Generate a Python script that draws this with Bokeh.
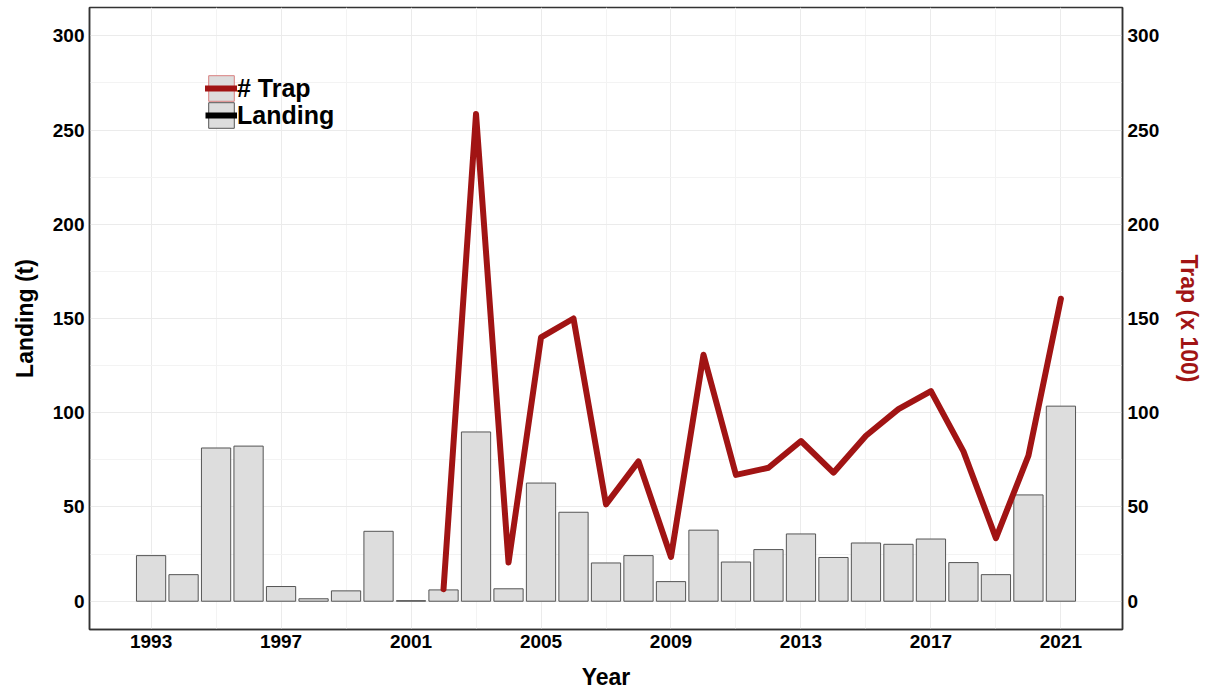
from bokeh.plotting import figure
from bokeh.models import Range1d, LinearAxis, FixedTicker, Legend, LegendItem, ColumnDataSource
from bokeh.embed import file_html
from bokeh.resources import INLINE

# Annual landings (t), 1993-2021
years = list(range(1993, 2022))
landing = [24.2, 14.1, 81.3, 82.3, 7.8, 1.3, 5.5, 37.1, 0.3, 6.0,
           89.8, 6.6, 62.7, 47.2, 20.3, 24.2, 10.4, 37.7, 20.8, 27.4,
           35.7, 23.2, 30.9, 30.2, 33.0, 20.5, 14.1, 56.4, 103.5]

# Number of traps (x 100), 2002-2021
trap_years = list(range(2002, 2022))
trap = [6.4, 258.5, 20.5, 140.0, 150.0, 51.4, 74.2, 23.5, 130.8, 67.0,
        70.8, 85.0, 68.2, 87.8, 101.9, 111.5, 79.5, 33.5, 77.2, 160.5]

x_ticks = [1993, 1997, 2001, 2005, 2009, 2013, 2017, 2021]
x_minor = [1995, 1999, 2003, 2007, 2011, 2015, 2019]
y_ticks = [0, 50, 100, 150, 200, 250, 300]
y_minor = [25, 75, 125, 175, 225, 275]

RED = "#A11414"
FONT = "Liberation Sans"
NAN = float("nan")

p = figure(width=1210, height=694, output_backend="svg", toolbar_location=None,
           x_range=Range1d(1991.105, 2022.895), y_range=Range1d(-15, 315),
           min_border_left=89, min_border_right=88, min_border_top=7, min_border_bottom=65)
p.background_fill_color = "white"
p.border_fill_color = "white"
p.outline_line_color = "#333333"
p.outline_line_width = 1.5

bars_src = ColumnDataSource(dict(year=years, landing=landing))
trap_src = ColumnDataSource(dict(year=trap_years, trap=trap))

p.vbar(x="year", top="landing", width=0.9, source=bars_src,
       fill_color="#DDDDDD", line_color="#555555", line_width=1)
trap_line = p.line(x="year", y="trap", source=trap_src, line_color=RED,
                   line_width=6, line_cap="round", line_join="round")

# legend keys: a filled box with a line drawn across it (nothing drawn in the plot)
key_trap_box = p.vbar(x=[NAN], top=[NAN], width=0.9, fill_color="#DDDDDD",
                      line_color="#D98080", line_width=1)
key_land_box = p.vbar(x=[NAN], top=[NAN], width=0.9, fill_color="#DDDDDD",
                      line_color="#555555", line_width=1)
key_land_line = p.line(x=[NAN], y=[NAN], line_color="black", line_width=6)


def make_legend(label, renderers, loc):
    lg = Legend(items=[LegendItem(label=label, renderers=renderers)], location=loc)
    lg.glyph_width = 32
    lg.glyph_height = 32
    lg.label_height = 26
    lg.label_standoff = 0
    lg.padding = 0
    lg.margin = 0
    lg.border_line_color = None
    lg.background_fill_alpha = 0
    lg.label_text_font = FONT
    lg.label_text_font_style = "bold"
    lg.label_text_font_size = "25px"
    lg.label_text_color = "black"
    lg.label_text_baseline = "middle"
    return lg


p.add_layout(make_legend("# Trap", [key_trap_box, trap_line], (116, 525)))
p.add_layout(make_legend("Landing", [key_land_box, key_land_line], (116, 498)))

# grid
p.xaxis.ticker = FixedTicker(ticks=x_ticks, minor_ticks=x_minor)
p.yaxis.ticker = FixedTicker(ticks=y_ticks, minor_ticks=y_minor)
for g in (p.xgrid, p.ygrid):
    g.grid_line_color = "#EBEBEB"
    g.grid_line_width = 1
    g.minor_grid_line_color = "#F3F3F3"
    g.minor_grid_line_width = 1

right_axis = LinearAxis(ticker=FixedTicker(ticks=y_ticks, minor_ticks=y_minor))
p.add_layout(right_axis, "right")

for ax in p.xaxis + p.yaxis + [right_axis]:
    ax.major_tick_in = 0
    ax.major_tick_out = 0
    ax.minor_tick_in = 0
    ax.minor_tick_out = 0
    ax.axis_line_color = "#333333"
    ax.axis_line_width = 1.5
    ax.major_label_text_font = FONT
    ax.major_label_text_font_style = "bold"
    ax.major_label_text_font_size = "19px"
    ax.major_label_text_color = "black"
    ax.axis_label_text_font = FONT
    ax.axis_label_text_font_style = "bold"
    ax.axis_label_text_font_size = "23px"
    ax.axis_label_text_color = "black"
    ax.major_label_standoff = 5

p.xaxis.axis_label = "Year"
p.xaxis.axis_label_standoff = 13
p.yaxis[0].axis_label = "Landing (t)"
p.yaxis[0].axis_label_standoff = 12
right_axis.axis_label = "Trap (x 100)"
right_axis.axis_label_standoff = 14
right_axis.axis_label_text_color = RED

open("out.html", "w").write(file_html(p, INLINE))
